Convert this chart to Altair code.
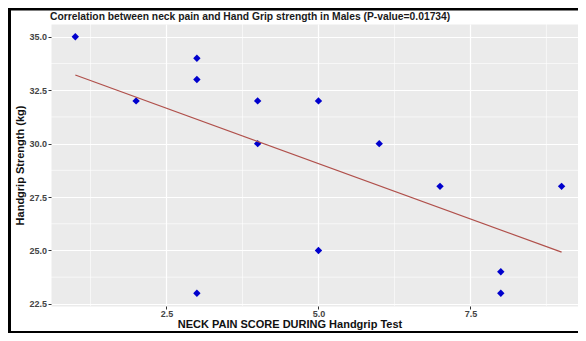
import altair as alt
import pandas as pd

# Data
pain_score = [1, 2, 3, 3, 3, 4, 4, 5, 5, 6, 7, 8, 8, 9]
grip_kg = [35, 32, 34, 33, 23, 32, 30, 32, 25, 30, 28, 24, 23, 28]

x_ticks = [2.5, 5.0, 7.5]
y_ticks = [22.5, 25.0, 27.5, 30.0, 32.5, 35.0]
x_minor = [1.25, 3.75, 6.25, 8.75]
y_minor = [23.75, 26.25, 28.75, 31.25, 33.75]

title_text = "Correlation between neck pain and Hand Grip strength in Males (P-value=0.01734)"
x_title = "NECK PAIN SCORE DURING Handgrip Test"
y_title = "Handgrip Strength (kg)"

df = pd.DataFrame({"x": pain_score, "y": grip_kg})
mx = pd.DataFrame({"x": x_minor})
my = pd.DataFrame({"y": y_minor})
one = pd.DataFrame({"a": [0]})

FONT = "Liberation Sans"
PW, PH = 527, 282
PL, PT, PB = 43, 16, 27

X = alt.X(
    "x:Q",
    scale=alt.Scale(domain=[0.6, 9.27], nice=False, zero=False),
    axis=alt.Axis(
        values=x_ticks, format=".1f", grid=True, gridColor="white", gridWidth=1.2,
        domain=False, ticks=True, tickColor="#333333", tickSize=3, tickWidth=1,
        labelFont=FONT, labelFontSize=9, labelFontWeight="bold", labelColor="#444444",
        labelPadding=0, title=x_title, titleFont=FONT, titleFontSize=11,
        titleFontWeight="bold", titleColor="#111111", titleX=238.5, titleY=21.5,
        titleBaseline="alphabetic", titleAlign="center",
    ),
)
Y = alt.Y(
    "y:Q",
    scale=alt.Scale(domain=[22.4, 35.6], nice=False, zero=False),
    axis=alt.Axis(
        values=y_ticks, format=".1f", grid=True, gridColor="white", gridWidth=1.2,
        domain=False, ticks=True, tickColor="#333333", tickSize=3, tickWidth=1,
        labelFont=FONT, labelFontSize=9, labelFontWeight="bold", labelColor="#444444",
        labelPadding=1.5, title=y_title, titleFont=FONT, titleFontSize=11,
        titleFontWeight="bold", titleColor="#111111", titleX=-27.5, titleY=PH / 2,
        titleAngle=270, titleBaseline="alphabetic", titleAlign="center",
    ),
)

minor_x = alt.Chart(mx).mark_rule(color="white", strokeWidth=0.6).encode(x=X)
minor_y = alt.Chart(my).mark_rule(color="white", strokeWidth=0.6).encode(y=Y)

points = alt.Chart(df).mark_point(
    shape="diamond", filled=True, size=55, color="#0000CD", opacity=1
).encode(x=X, y=Y)

line = alt.Chart(df).transform_regression("x", "y").mark_line(
    color="#B0504B", strokeWidth=1.3
).encode(x=X, y=Y)

title = alt.Chart(one).mark_text(
    align="left", baseline="alphabetic", font=FONT, fontSize=10.3,
    fontWeight="bold", color="#1a1a1a"
).encode(x=alt.value(-1), y=alt.value(-4), text=alt.value(title_text))

frame_left = alt.Chart(one).mark_rule(color="black", strokeWidth=3).encode(
    x=alt.value(-PL + 1.5), y=alt.value(-PT), y2=alt.value(PH + PB)
)
frame_top = alt.Chart(one).mark_rule(color="black", strokeWidth=2.5).encode(
    x=alt.value(-PL), x2=alt.value(PW), y=alt.value(-PT + 1.25)
)
frame_bottom = alt.Chart(one).mark_rule(color="black", strokeWidth=2).encode(
    x=alt.value(-PL), x2=alt.value(PW), y=alt.value(PH + PB - 1)
)

chart = alt.layer(
    minor_x, minor_y, points, line, title, frame_left, frame_top, frame_bottom
).properties(
    width=PW,
    height=PH,
    padding={"left": PL, "top": PT, "right": 0, "bottom": PB},
    autosize=alt.AutoSizeParams(type="none"),
    background="white",
).configure_view(fill="#EBEBEB", stroke="transparent")

chart.save("out.html", embed_options={"renderer": "svg", "actions": False})
